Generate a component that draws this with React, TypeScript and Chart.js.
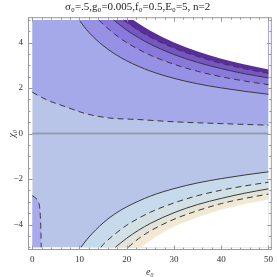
import React, { useEffect, useRef } from "react";
import { Chart, registerables } from "chart.js";
Chart.register(...registerables);

const TITLE = "σ₀=.5,g₀=0.005,f₀=0.5,E₀=5, n=2";
const X_LABEL = "e₀";
const Y_LABEL = "χ₀";

const xMajorTicks = [0, 10, 20, 30, 40, 50];
const xMinorTicks = [0, 2, 4, 6, 8, 10, 12, 14, 16, 18, 20, 22, 24, 26, 28, 30, 32, 34, 36, 38, 40, 42, 44, 46, 48, 50];
const yMajorTicks = [-4, -2, 0, 2, 4];
const yMinorTicks = [-5, -4.5, -4, -3.5, -3, -2.5, -2, -1.5, -1, -0.5, 0, 0.5, 1, 1.5, 2, 2.5, 3, 3.5, 4, 4.5, 5];

// upper contour family
const topDashed0X = [0, 3, 7.2, 11.3, 16.2, 22.4, 30, 40, 50];
const topDashed0Y = [1.82, 1.49, 1.17, 0.88, 0.69, 0.62, 0.52, 0.44, 0.37];
const topSolid1X = [9.9, 12, 15, 17.5, 20, 25, 30, 35, 40, 45, 50];
const topSolid1Y = [5.0, 4.45, 3.87, 3.5, 3.2, 2.75, 2.43, 2.19, 2.01, 1.86, 1.73];
const topDashed1X = [14.1, 15, 17.5, 20, 25, 30, 35, 40, 45, 50];
const topDashed1Y = [5.0, 4.81, 4.37, 4.0, 3.45, 3.05, 2.74, 2.5, 2.31, 2.15];
const topSolid2X = [17.2, 20, 22.5, 25, 30, 35, 40, 45, 50];
const topSolid2Y = [5.0, 4.55, 4.22, 3.93, 3.48, 3.13, 2.86, 2.63, 2.45];
const topDashed2X = [19.3, 20, 22.5, 25, 30, 35, 40, 45, 50];
const topDashed2Y = [5.0, 4.89, 4.54, 4.24, 3.76, 3.39, 3.09, 2.85, 2.65];
const topEdgeX = [21.4, 22.5, 25, 30, 35, 40, 45, 50];
const topEdgeY = [5.0, 4.84, 4.52, 4.01, 3.61, 3.29, 3.04, 2.82];

// lower contour family
const botSolid1X = [10.3, 12, 15, 17.5, 20, 25, 30, 35, 40, 45, 50];
const botSolid1Y = [-5.0, -4.55, -3.93, -3.53, -3.22, -2.75, -2.42, -2.17, -1.98, -1.82, -1.68];
const botDashed1X = [14.5, 15, 17.5, 20, 25, 30, 35, 40, 45, 50];
const botDashed1Y = [-5.0, -4.88, -4.42, -4.03, -3.46, -3.05, -2.73, -2.49, -2.3, -2.14];
const botSolid2X = [17.6, 20, 22.5, 25, 30, 35, 40, 45, 50];
const botSolid2Y = [-5.0, -4.6, -4.25, -3.95, -3.48, -3.12, -2.85, -2.62, -2.43];
const botDashed2X = [20.3, 22.5, 25, 30, 35, 40, 45, 50];
const botDashed2Y = [-5.0, -4.62, -4.28, -3.77, -3.39, -3.08, -2.85, -2.66];
const botEdgeX = [23, 25, 30, 35, 40, 45, 50];
const botEdgeY = [-5.0, -4.7, -4.1, -3.68, -3.35, -3.1, -2.9];

// small island near the left edge
const islandX = [0, 0.8, 1.3, 1.6, 1.75, 1.85, 1.9];
const islandY = [-2.73, -2.85, -3.0, -3.3, -3.8, -4.4, -5.0];

const zip = (xs: number[], ys: number[]) => xs.map((x, i) => ({ x, y: ys[i] }));

const framePlugin = {
  id: "mmaFrame",
  afterDraw(chart: any) {
    const { ctx, chartArea: a, scales } = chart;
    const sx = scales.x, sy = scales.y;
    ctx.save();
    ctx.strokeStyle = "#9a9a9a";
    ctx.lineWidth = 1;
    ctx.strokeRect(a.left + 0.5, a.top + 0.5, a.right - a.left - 1, a.bottom - a.top - 1);
    ctx.beginPath();
    xMinorTicks.forEach((v) => {
      const len = xMajorTicks.includes(v) ? 4.5 : 2.5;
      const px = Math.round(sx.getPixelForValue(v)) + 0.5;
      ctx.moveTo(px, a.bottom);
      ctx.lineTo(px, a.bottom - len);
      ctx.moveTo(px, a.top);
      ctx.lineTo(px, a.top + len);
    });
    yMinorTicks.forEach((v) => {
      const len = yMajorTicks.includes(v) ? 4.5 : 2.5;
      const py = Math.round(sy.getPixelForValue(v)) + 0.5;
      ctx.moveTo(a.left, py);
      ctx.lineTo(a.left + len, py);
      ctx.moveTo(a.right, py);
      ctx.lineTo(a.right - len, py);
    });
    ctx.stroke();
    ctx.restore();
  },
};

export default function App() {
  const ref = useRef<HTMLCanvasElement | null>(null);
  useEffect(() => {
    document.body.style.margin = "0";
    if (!ref.current) return;
    const LINE = "#3a3a3a";
    const DASH = [6, 4];
    const band = (data: any[], color: string, to: number, order: number, dashed: boolean | null) => ({
      data,
      backgroundColor: color,
      borderColor: dashed === null ? "rgba(0,0,0,0)" : LINE,
      borderWidth: dashed === null ? 0 : 1,
      borderDash: dashed ? DASH : [],
      fill: { value: to },
      pointRadius: 0,
      cubicInterpolationMode: "monotone",
      order,
    });
    const chart = new Chart(ref.current, {
      type: "line",
      data: {
        datasets: [
          band([{ x: 0, y: 5 }, { x: 50, y: 5 }], "#b8c4e8", -5, 100, null),
          band(zip(topDashed0X, topDashed0Y), "#a5a9ea", 5, 90, true),
          band(zip(topSolid1X, topSolid1Y), "#9791e5", 5, 89, false),
          band(zip(topDashed1X, topDashed1Y), "#8a79dc", 5, 88, true),
          band(zip(topSolid2X, topSolid2Y), "#7456c6", 5, 87, false),
          band(zip(topDashed2X, topDashed2Y), "#5b2d9c", 5, 86, true),
          band(zip(topEdgeX, topEdgeY), "#ffffff", 5, 85, null),
          band(zip(botSolid1X, botSolid1Y), "#c6daeb", -5, 80, false),
          band(zip(botDashed1X, botDashed1Y), "#d3e0e5", -5, 79, true),
          band(zip(botSolid2X, botSolid2Y), "#e2e4da", -5, 78, false),
          band(zip(botDashed2X, botDashed2Y), "#f2e9d4", -5, 77, true),
          band(zip(botEdgeX, botEdgeY), "#ffffff", -5, 76, null),
          band(zip(islandX, islandY), "#a9aaee", -5, 75, true),
          {
            data: [{ x: 0, y: 0 }, { x: 50, y: 0 }],
            borderColor: "rgba(120,125,140,0.55)",
            borderWidth: 2,
            pointRadius: 0,
            fill: false,
            order: 70,
          },
        ] as any,
      },
      options: {
        animation: false,
        responsive: false,
        devicePixelRatio: 1,
        events: [],
        layout: { padding: { left: 0, right: 1.6, top: 0, bottom: 0 } },
        plugins: {
          legend: { display: false },
          tooltip: { enabled: false },
          title: {
            display: true,
            text: TITLE,
            color: "#222",
            font: { family: "Liberation Serif", size: 11, weight: "normal" },
            padding: { top: 1, bottom: 3 },
          },
        },
        scales: {
          x: {
            type: "linear",
            min: -0.9,
            max: 50.7,
            grid: { display: false, drawTicks: false },
            border: { display: false },
            afterFit: (s: any) => { s.height = 27; },
            ticks: {
              stepSize: 10,
              includeBounds: false,
              padding: 4,
              color: "#333",
              font: { family: "Liberation Serif", size: 9 },
              maxRotation: 0,
            },
            title: {
              display: true,
              text: X_LABEL,
              color: "#333",
              font: { family: "Liberation Serif", size: 10, style: "italic", lineHeight: 1 },
              padding: { top: 0, bottom: 0 },
            },
          },
          y: {
            type: "linear",
            min: -5.12,
            max: 5.12,
            grid: { display: false, drawTicks: false },
            border: { display: false },
            afterFit: (s: any) => { s.width = 28; },
            ticks: {
              stepSize: 2,
              includeBounds: false,
              padding: 5,
              color: "#333",
              font: { family: "Liberation Serif", size: 9 },
              callback: (v: any) => String(v).replace("-", "\u2212"),
            },
            title: {
              display: true,
              text: Y_LABEL,
              color: "#333",
              font: { family: "Liberation Serif", size: 10, style: "italic", lineHeight: 1.2 },
              padding: { top: 6, bottom: 0 },
            },
          },
        },
      } as any,
      plugins: [framePlugin],
    });
    return () => chart.destroy();
  }, []);
  return (
    <div style={{ width: 277, height: 277 }}>
      <canvas ref={ref} width={277} height={277} style={{ display: "block" }} />
    </div>
  );
}
